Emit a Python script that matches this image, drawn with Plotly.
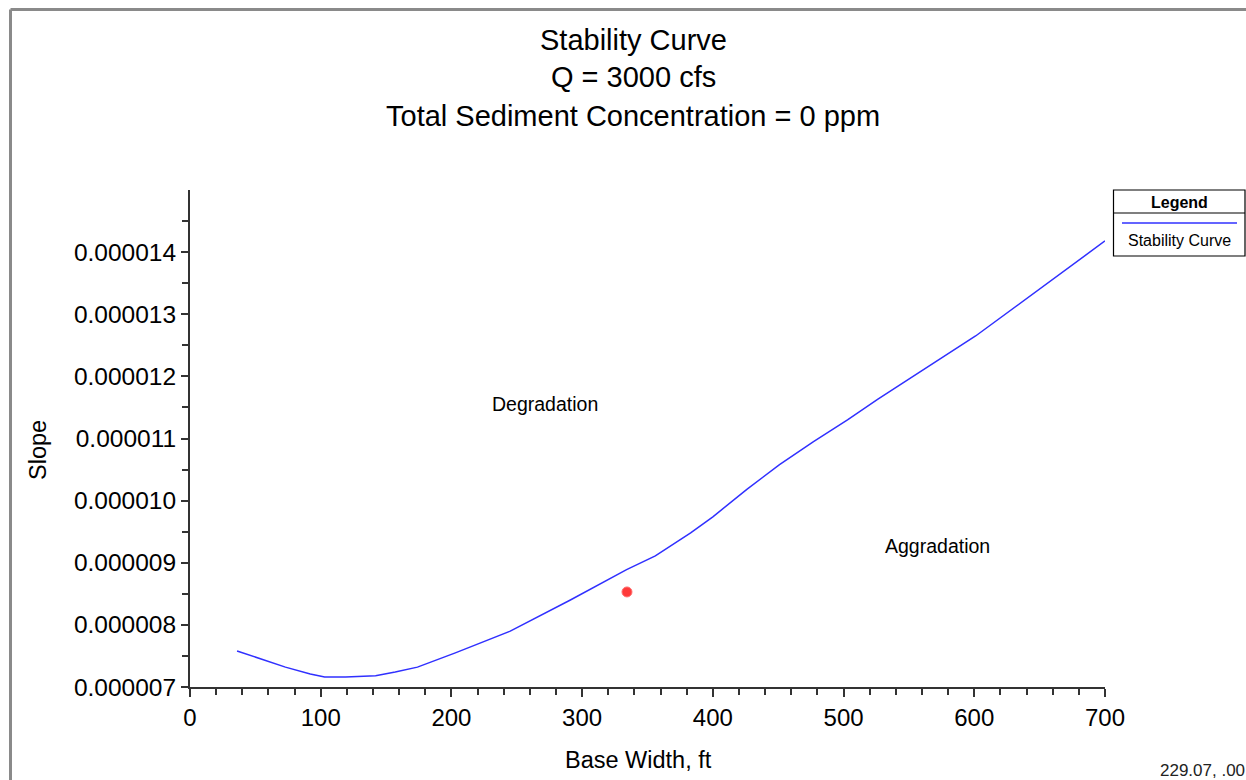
import plotly.graph_objects as go

# ---- data ----
base_width_ft = [36, 54, 73, 92, 103, 119, 142, 157, 174, 203, 245, 291, 334, 356,
                 383, 400, 426, 451, 477, 503, 526, 601, 650, 700]
slope_e6 = [7.58, 7.45, 7.32, 7.21, 7.16, 7.16, 7.18, 7.24, 7.32, 7.55, 7.90, 8.40,
            8.89, 9.11, 9.48, 9.74, 10.18, 10.58, 10.95, 11.30, 11.63, 12.65, 13.40, 14.18]
slope = [v * 1e-6 for v in slope_e6]

point_x = [334.3]
point_y = [8.53e-6]

y_tick_vals = [7e-6, 8e-6, 9e-6, 10e-6, 11e-6, 12e-6, 13e-6, 14e-6]
y_tick_text = ["0.000007", "0.000008", "0.000009", "0.000010",
               "0.000011", "0.000012", "0.000013", "0.000014"]
y_minor_vals = [7.5e-6, 8.5e-6, 9.5e-6, 10.5e-6, 11.5e-6, 12.5e-6, 13.5e-6, 14.5e-6]
x_tick_vals = [0, 100, 200, 300, 400, 500, 600, 700]

title_lines = ["Stability Curve", "Q = 3000 cfs", "Total Sediment Concentration = 0 ppm"]

# ---- layout geometry (pixels) ----
W, H = 1246, 780
L, R, T, B = 190, 1105, 190, 687
PW, PH = R - L, B - T


def px(x):
    return (x - L) / PW


def py(y):
    return (B - y) / PH


FONT = "Arial, Liberation Sans, sans-serif"
AXC = "#333333"

fig = go.Figure()
fig.add_trace(go.Scatter(x=base_width_ft, y=slope, mode="lines",
                         line=dict(color="#3030ff", width=1.5),
                         name="Stability Curve", showlegend=False))
fig.add_trace(go.Scatter(x=point_x, y=point_y, mode="markers",
                         marker=dict(color="#ff3a3a", size=10, symbol="circle",
                                     line=dict(color="#ff7070", width=1)),
                         showlegend=False))

annotations = []
for txt, yy in zip(title_lines, [40, 77, 116]):
    annotations.append(dict(text=txt, x=px(633), y=py(yy), xref="paper", yref="paper",
                            xanchor="center", yanchor="middle", showarrow=False,
                            font=dict(family=FONT, size=29, color="#000")))
annotations += [
    dict(text="Degradation", x=271.6, y=11.55e-6, xref="x", yref="y", showarrow=False,
         font=dict(family=FONT, size=19.5, color="#000")),
    dict(text="Aggradation", x=571.5, y=9.27e-6, xref="x", yref="y", showarrow=False,
         font=dict(family=FONT, size=19.5, color="#000")),
    dict(text="Slope", x=px(38), y=py(450), xref="paper", yref="paper", textangle=-90,
         showarrow=False, xanchor="center", yanchor="middle",
         font=dict(family=FONT, size=23.5, color="#000")),
    dict(text="Base Width, ft", x=px(638), y=py(760), xref="paper", yref="paper",
         showarrow=False, xanchor="center", yanchor="middle",
         font=dict(family=FONT, size=23.5, color="#000")),
    dict(text="229.07, .00", x=px(1202), y=py(770), xref="paper", yref="paper",
         showarrow=False, xanchor="center", yanchor="middle",
         font=dict(family=FONT, size=17, color="#222")),
    dict(text="<b>Legend</b>", x=px(1179), y=py(202), xref="paper", yref="paper",
         showarrow=False, xanchor="center", yanchor="middle",
         font=dict(family=FONT, size=16, color="#000")),
    dict(text="Stability Curve", x=px(1179), y=py(240), xref="paper", yref="paper",
         showarrow=False, xanchor="center", yanchor="middle",
         font=dict(family=FONT, size=16, color="#000")),
]

shapes = [
    # outer window frame
    dict(type="line", xref="paper", yref="paper", x0=px(10.5), x1=px(1260),
         y0=py(9.5), y1=py(9.5), line=dict(color="#8a8a8a", width=3)),
    dict(type="line", xref="paper", yref="paper", x0=px(10.5), x1=px(10.5),
         y0=py(9.5), y1=py(800), line=dict(color="#8a8a8a", width=3)),
    # legend box
    dict(type="rect", xref="paper", yref="paper", x0=px(1113.5), x1=px(1245),
         y0=py(256), y1=py(190), line=dict(color="#000", width=1.2), fillcolor="white"),
    dict(type="line", xref="paper", yref="paper", x0=px(1113.5), x1=px(1245),
         y0=py(213), y1=py(213), line=dict(color="#000", width=1.2)),
    dict(type="line", xref="paper", yref="paper", x0=px(1122), x1=px(1237),
         y0=py(223), y1=py(223), line=dict(color="#3030ff", width=1.5)),
]

fig.update_layout(
    width=W, height=H,
    margin=dict(l=L, r=W - R, t=T, b=H - B, pad=0),
    paper_bgcolor="white", plot_bgcolor="white",
    showlegend=False,
    annotations=annotations,
    shapes=shapes,
    font=dict(family=FONT, color="#000"),
)
fig.update_xaxes(range=[0, 700], tickmode="array", tickvals=x_tick_vals,
                 ticks="outside", ticklen=8, tickwidth=1.5, tickcolor=AXC,
                 showline=True, linecolor=AXC, linewidth=2, showgrid=False, zeroline=False,
                 tickfont=dict(family=FONT, size=24, color="#000"),
                 minor=dict(dtick=20, tick0=0, ticks="outside", ticklen=6, tickwidth=1.5,
                            tickcolor=AXC, showgrid=False))
fig.update_yaxes(range=[7e-6, 15e-6], tickmode="array", tickvals=y_tick_vals,
                 ticktext=y_tick_text,
                 ticks="outside", ticklen=7, tickwidth=1.5, tickcolor=AXC,
                 showline=True, linecolor=AXC, linewidth=2, showgrid=False, zeroline=False,
                 tickfont=dict(family=FONT, size=24.5, color="#000"),
                 minor=dict(tickmode="array", tickvals=y_minor_vals, ticks="outside",
                            ticklen=6, tickwidth=1.5, tickcolor=AXC, showgrid=False))

fig.write_html("out.html")
